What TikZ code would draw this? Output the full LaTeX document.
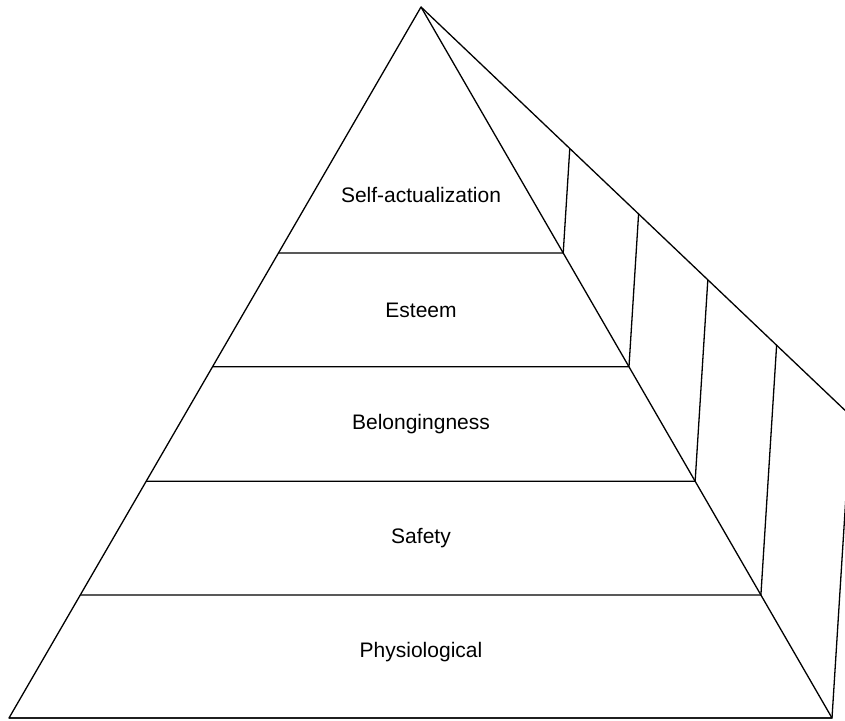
\documentclass[tikz,border=0pt]{standalone}
\usepackage{fontspec}
\setmainfont{Liberation Sans}
\usepackage{tikz}
\usetikzlibrary{
    positioning,      % For placing nodes relative to each other
    calc              % For points along the pyramid edges
}

\begin{document}
\begin{tikzpicture}[
    x=1pt, y=-1pt,
    % Style for the pyramid outlines
    edge_style/.style={
        line width=1.3pt,
        line join=round
    },
    % Style for the level names
    level_label/.style={
        font=\fontsize{21}{25}\selectfont,
        inner sep=1pt
    }
]
    % 0. Fix the frame of the picture and cut off the ridge at the right.
    \useasboundingbox (0,0) rectangle (845,720);
    \clip (0,0) rectangle (845,720);

    % 1. Define the corners of the pyramid.
    \coordinate (apex) at (421,7);
    \coordinate (base_left) at (9,718);
    \coordinate (base_right) at (832,718);
    \coordinate (ridge_end) at (851,416);

    % 2. Draw the front face and the back ridge.
    \draw[edge_style] (base_right) -- (apex) -- (base_left) -- cycle;
    \draw[edge_style] (apex) -- (ridge_end);

    % 3. Draw the level lines across the front and up the side face.
    \foreach \t/\name in {0.346/selfact, 0.506/esteem, 0.667/belong, 0.827/safety, 1/physio} {
        \coordinate (\name_left) at ($(apex)!\t!(base_left)$);
        \coordinate (\name_right) at ($(apex)!\t!(base_right)$);
        \coordinate (\name_top) at ($(apex)!\t!(ridge_end)$);
        \draw[edge_style] (\name_left) -- (\name_right) -- (\name_top);
    }

    % 4. Place the level names.
    \node[level_label] (selfact_text) at (421,195) {Self-actualization};
    \node[level_label] (esteem_text) at (421,310) {Esteem};
    \node[level_label] (belong_text) at (421,424) {Belongingness};
    \node[level_label] (safety_text) at (421,538) {Safety};
    \node[level_label] (physio_text) at (421,652) {Physiological};

\end{tikzpicture}
\end{document}
